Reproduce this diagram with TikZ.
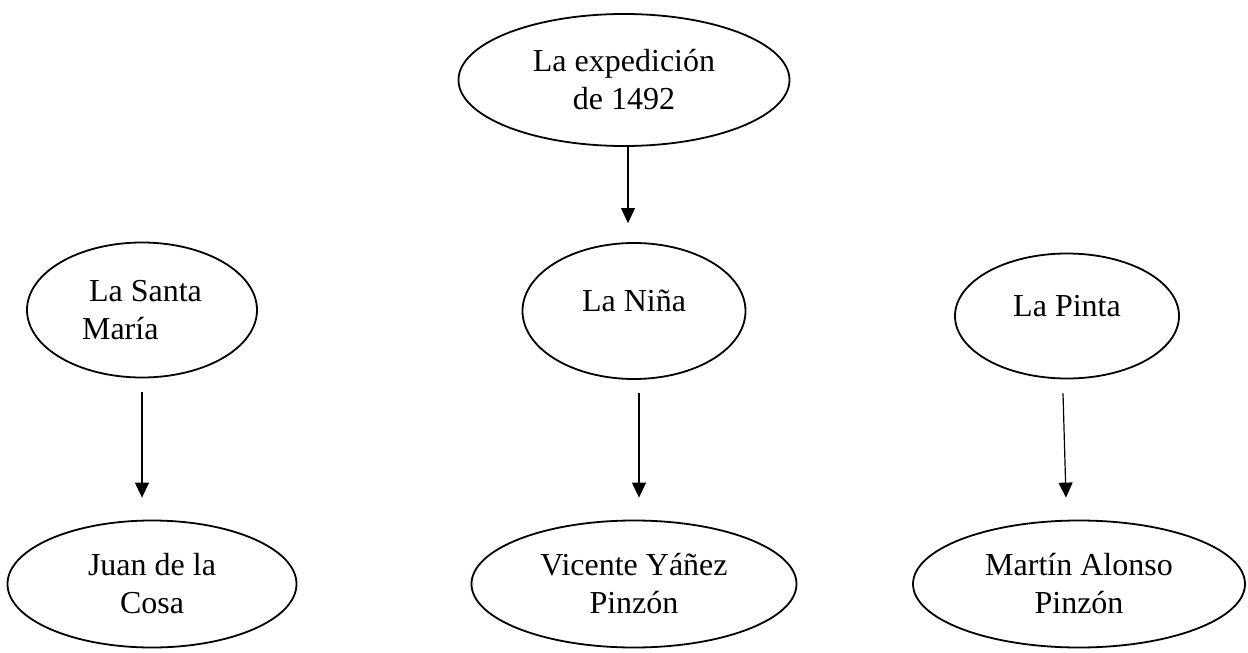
\documentclass[tikz,border=0pt]{standalone}
\usepackage{fontspec}
\setmainfont{Liberation Serif}
\usetikzlibrary{shapes.geometric,arrows.meta}
\begin{document}
\begin{tikzpicture}[x=1pt,y=-1pt,
  oval/.style={ellipse,draw,line width=1.8pt,inner sep=0pt,align=center,
    font=\fontsize{32}{38}\selectfont},
  arr/.style={line width=1.2pt,-{Triangle[length=15pt,width=14pt]}}]
\useasboundingbox (0,0) rectangle (1248,653);
\node[oval,minimum width=331pt,minimum height=132pt] (top) at (624,80) {La expedición\\de 1492};
\node[oval,minimum width=230pt,minimum height=135pt,align=left] (santa) at (142,310) {\hspace{7pt}La Santa\\María};
\node[oval,minimum width=223pt,minimum height=136pt] (nina) at (634,311) {\raisebox{10pt}[\height][\depth]{La Niña}};
\node[oval,minimum width=224pt,minimum height=125pt] (pinta) at (1067,316) {\raisebox{10pt}[\height][\depth]{La Pinta}};
\node[oval,minimum width=289pt,minimum height=127pt] (juan) at (152,584) {Juan de la\\Cosa};
\node[oval,minimum width=325pt,minimum height=127pt] (vicente) at (634,584) {Vicente Yáñez\\Pinzón};
\node[oval,minimum width=332pt,minimum height=127pt] (martin) at (1079,584) {Martín Alonso\\Pinzón};
\draw[arr] ([xshift=4pt]top.south) -- ([xshift=4pt,yshift=19pt]top.south |- nina.north);
\draw[arr] ([yshift=-14pt]santa.south) -- ([yshift=22pt]santa.south |- juan.north);
\draw[arr] ([xshift=5pt,yshift=-13pt]nina.south) -- ([xshift=5pt,yshift=22pt]nina.south |- vicente.north);
\draw[arr] ([xshift=-4pt,yshift=-14pt]pinta.south) -- ([xshift=-13pt,yshift=22pt]martin.north);
\end{tikzpicture}
\end{document}
